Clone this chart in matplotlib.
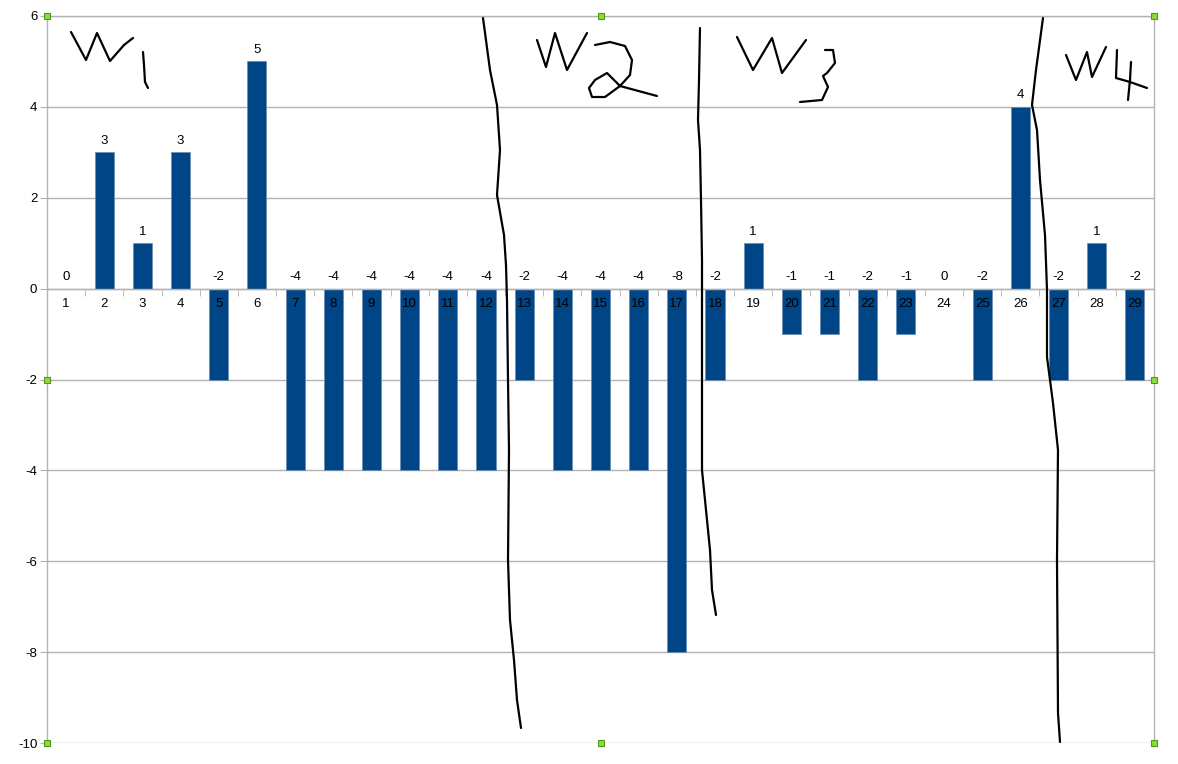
import numpy as np
import matplotlib
matplotlib.use("Agg")
import matplotlib.pyplot as plt

plt.rcParams['font.family'] = ['Liberation Sans', 'DejaVu Sans']

# chart data
days = list(range(1, 30))
values = [0, 3, 1, 3, -2, 5, -4, -4, -4, -4, -4, -4, -2, -4, -4, -4, -8, -2,
          1, -1, -1, -2, -1, 0, -2, 4, -2, 1, -2]
y_ticks = [-10, -8, -6, -4, -2, 0, 2, 4, 6]

bar_color = '#004586'
grid_color = '#b3b3b3'

W, H = 1178, 764
fig = plt.figure(figsize=(W / 100, H / 100), dpi=100)
L, R, T, B = 47, 1154, 16, 743
ax = fig.add_axes([L / W, 1 - B / H, (R - L) / W, (B - T) / H])

ax.bar(days, values, width=0.5, color=bar_color, edgecolor='#6d8fb5', linewidth=0.6, zorder=2)

ax.set_xlim(0.5, 29.5)
ax.set_ylim(-10, 6)
ax.set_yticks(y_ticks)
ax.set_yticklabels([str(v) for v in y_ticks], fontsize=9.5)
ax.yaxis.grid(True, color=grid_color, linewidth=1, zorder=0)
ax.tick_params(axis='y', length=5, color=grid_color, pad=2)

# category axis through zero
ax.spines['bottom'].set_position(('data', 0))
for s in ax.spines.values():
    s.set_color(grid_color)
    s.set_linewidth(1)
ax.spines['bottom'].set_zorder(3)
ax.set_xticks(days)
ax.set_xticklabels([])
ax.tick_params(axis='x', which='major', length=0)
ax.set_xticks(np.arange(1.5, 29.5, 1), minor=True)
ax.tick_params(axis='x', which='minor', length=5, color=grid_color, direction='out')

# category labels drawn over the bars
for d in days:
    ax.annotate(str(d), (d, 0), xytext=(0, -7), textcoords='offset points',
                ha='center', va='top', fontsize=9.5, zorder=5)

# value labels
for d, v in zip(days, values):
    ax.annotate(str(v), (d, max(v, 0)), xytext=(0, 4), textcoords='offset points',
                ha='center', va='bottom', fontsize=9.5)

# selection handles
hx = [0, 0.5, 1, 0, 1, 0, 0.5, 1]
hy = [1, 1, 1, 0.5, 0.5, 0, 0, 0]
ax.plot(hx, hy, 's', ms=5, mfc='#8fdb3c', mec='#4f9a14', mew=0.8,
        transform=ax.transAxes, clip_on=False, zorder=6, ls='none')

# hand drawn notes
ov = fig.add_axes([0, 0, 1, 1], facecolor='none')
ov.set_xlim(0, W)
ov.set_ylim(H, 0)
ov.axis('off')
strokes = [
    [(71, 32), (86, 60), (97, 33), (110, 61), (124, 45), (133, 38)],
    [(143, 52), (144, 65), (145, 82), (148, 88)],
    [(483, 18), (490, 70), (497, 105), (500, 150), (497, 195), (504, 235), (506, 265),
     (507, 300), (508, 380), (509, 450), (508, 560), (510, 620), (514, 660), (517, 700), (521, 728)],
    [(537, 40), (546, 67), (555, 33), (567, 70), (587, 33)],
    [(595, 45), (610, 42), (625, 46), (632, 60), (630, 75), (620, 86), (605, 97),
     (592, 97), (589, 88), (595, 80), (607, 73), (620, 86), (657, 96)],
    [(700, 28), (699, 80), (698, 120), (700, 150), (701, 200), (702, 260), (702, 330),
     (702, 470), (706, 510), (710, 550), (712, 590), (716, 615)],
    [(737, 37), (753, 70), (772, 38), (782, 73), (806, 40)],
    [(825, 50), (833, 50), (835, 63), (827, 73), (823, 76), (828, 87), (822, 100), (800, 102)],
    [(1043, 18), (1036, 70), (1032, 105), (1037, 130), (1040, 180), (1045, 235),
     (1047, 290), (1047, 357), (1053, 403), (1058, 450), (1057, 560), (1058, 713), (1060, 742)],
    [(1066, 55), (1076, 80), (1087, 52), (1092, 77), (1106, 47)],
    [(1117, 50), (1116, 78), (1130, 82), (1147, 88)],
    [(1131, 62), (1130, 80), (1128, 100)],
]
for st in strokes:
    xs, ys = zip(*st)
    ov.plot(xs, ys, color='black', lw=1.6, solid_capstyle='round', solid_joinstyle='round')

fig.savefig('out.png', dpi=100)
